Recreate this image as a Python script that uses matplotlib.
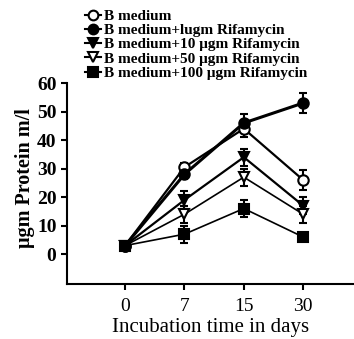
import numpy as np
import matplotlib.pyplot as plt
from matplotlib.lines import Line2D

plt.rcParams['font.family'] = ['Liberation Serif', 'DejaVu Serif']

days = ['0', '7', '15', '30']
labels = ['B medium',
          'B medium+lugm Rifamycin',
          'B medium+10 \u03bcgm Rifamycin',
          'B medium+50 \u03bcgm Rifamycin',
          'B medium+100 \u03bcgm Rifamycin']

b_medium = [3, 30.5, 44, 26]
rif_1 = [3, 28, 46, 53]
rif_10 = [3, 19, 34, 17]
rif_50 = [3, 14, 27, 14]
rif_100 = [3, 7, 16, 6]

err_medium = [0.5, 1.5, 3, 3.5]
err_1 = [0.5, 1.5, 3, 3.5]
err_10 = [0.5, 3, 3, 3]
err_50 = [0.5, 3, 3, 3]
err_100 = [0.5, 3, 3, 0.5]

series = [b_medium, rif_1, rif_10, rif_50, rif_100]
errors = [err_medium, err_1, err_10, err_50, err_100]
markers = ['o', 'o', 'v', 'v', 's']
faces = ['white', 'black', 'black', 'white', 'black']
widths = [1.6, 2.2, 1.6, 1.2, 1.2]

fig = plt.figure(figsize=(3.54, 3.39), dpi=100)
ax = fig.add_axes([0.189, 0.162, 0.81, 0.593])

x = np.arange(len(days))
handles = []
for vals, err, m, fc, lw in zip(series, errors, markers, faces, widths):
    ax.errorbar(x, vals, yerr=err, color='black', marker=m, markerfacecolor=fc,
                markeredgecolor='black', markeredgewidth=1.5, markersize=7.5,
                lw=lw, capsize=3, capthick=1.5, elinewidth=1.5)
    handles.append(Line2D([], [], color='black', lw=1.5, marker=m,
                          markerfacecolor=fc, markeredgecolor='black',
                          markeredgewidth=1.5, markersize=7))

ax.set_xlim(-0.98, 3.85)
ax.set_ylim(-10.5, 60)
ax.set_yticks([0, 10, 20, 30, 40, 50, 60])
ax.set_xticks(x)
ax.set_xticklabels(days)
ax.spines['top'].set_visible(False)
ax.spines['right'].set_visible(False)
ax.spines['left'].set_linewidth(1.5)
ax.spines['bottom'].set_linewidth(1.5)
ax.tick_params(width=1.5, length=4, labelsize=14)
ax.tick_params(axis='x', pad=6)
for t in ax.get_yticklabels():
    t.set_fontweight('bold')

ax.set_ylabel('\u03bcgm Protein m/l', fontsize=14.5, fontweight='bold')
ax.yaxis.set_label_coords(-0.11, 0.527)
ax.set_xlabel('Incubation time in days', fontsize=15, labelpad=2)

leg = fig.legend(handles, labels, loc='upper left', bbox_to_anchor=(0.215, 1.0),
                 frameon=False, fontsize=11, handlelength=1.0,
                 handletextpad=0.25, labelspacing=0.04, borderaxespad=0.2)
for t in leg.get_texts():
    t.set_fontweight('bold')

fig.savefig('out.png', dpi=100)
